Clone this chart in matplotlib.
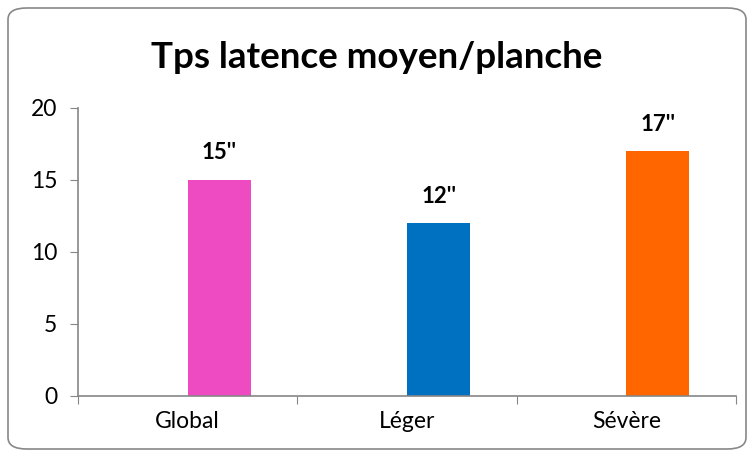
import matplotlib
matplotlib.use("Agg")
import matplotlib.pyplot as plt
from matplotlib.patches import FancyBboxPatch
import numpy as np

categories = ["Global", "Léger", "Sévère"]
values = [15, 12, 17]
labels = ["15''", "12''", "17''"]
colors = ["#EE4BC2", "#0070C0", "#FF6600"]
yticks = [0, 5, 10, 15, 20]

plt.rcParams['font.family'] = ['Lato', 'DejaVu Sans']

fig = plt.figure(figsize=(7.54, 4.57), dpi=100)
border = FancyBboxPatch((8/754, 8/457), 738/754, 441/457,
                        boxstyle="round,pad=0,rounding_size=0.025",
                        transform=fig.transFigure, facecolor="white",
                        edgecolor="#888888", linewidth=1.2, zorder=-5)
fig.patches.append(border)

ax = fig.add_axes([78/754, 61/457, 658/754, 288/457], zorder=2)
ax.set_facecolor("none")
x = np.arange(len(categories))
offset = 0.144
width = 0.287
ax.bar(x + offset, values, width=width, color=colors, zorder=2)
for xi, v, lab in zip(x, values, labels):
    ax.text(xi + offset, v + 1.15, lab, ha="center", va="bottom",
            fontsize=16, fontweight="bold", color="black")

ax.set_xlim(-0.5, 2.5)
ax.set_ylim(0, 20)
ax.set_yticks(yticks)
ax.set_yticklabels([str(t) for t in yticks], fontsize=16.5)
ax.set_xticks([-0.5, 0.5, 1.5, 2.5])
ax.set_xticklabels([])
ax.set_xticks(x, minor=True)
ax.set_xticklabels(categories, minor=True, fontsize=16.5)
ax.tick_params(axis="x", which="minor", length=0, pad=11)
ax.tick_params(axis="x", which="major", length=6, color="#868686", direction="out")
ax.tick_params(axis="y", length=6, color="#868686", direction="out", pad=9)
for s in ["top", "right"]:
    ax.spines[s].set_visible(False)
for s in ["left", "bottom"]:
    ax.spines[s].set_color("#868686")
    ax.spines[s].set_linewidth(1.2)

fig.text(377/754, 1 - 58/457, "Tps latence moyen/planche", ha="center", va="center",
         fontsize=26.5, fontweight="bold")

fig.savefig("out.png", dpi=100)
